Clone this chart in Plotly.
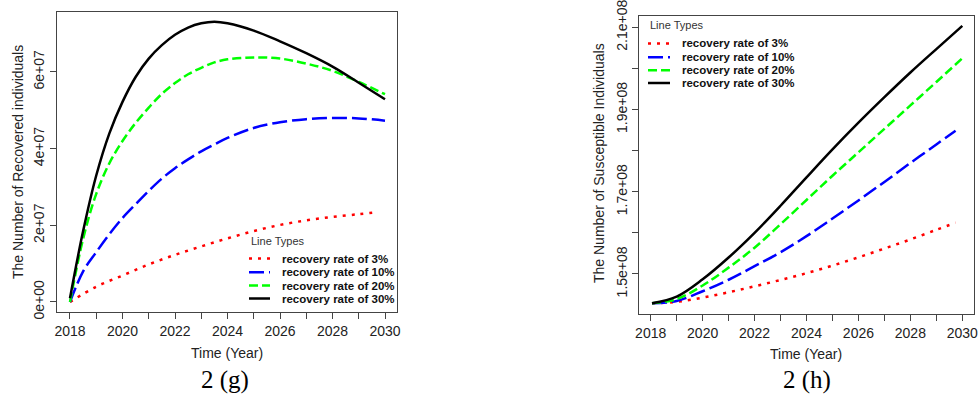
import plotly.graph_objects as go

# ---------------- data: panel 2(g) recovered individuals ----------------
g_years_fine = [2018, 2018.5, 2019, 2019.5, 2020, 2020.5, 2021, 2021.5, 2022, 2022.5, 2023, 2023.5,
                2024, 2025, 2026, 2027, 2028, 2029, 2030]
g_rec_30 = [0.1e7, 1.85e7, 3.3e7, 4.4e7, 5.22e7, 5.87e7, 6.35e7, 6.7e7, 6.97e7, 7.16e7, 7.27e7, 7.31e7,
            7.27e7, 7.08e7, 6.8e7, 6.49e7, 6.14e7, 5.72e7, 5.29e7]
g_rec_20 = [0.0, 1.65e7, 2.82e7, 3.62e7, 4.2e7, 4.67e7, 5.07e7, 5.43e7, 5.71e7, 5.94e7, 6.11e7, 6.25e7,
            6.33e7, 6.38e7, 6.35e7, 6.22e7, 6.03e7, 5.74e7, 5.42e7]
g_rec_10 = [0.0, 0.8e7, 1.3e7, 1.77e7, 2.19e7, 2.55e7, 2.9e7, 3.22e7, 3.49e7, 3.72e7, 3.93e7, 4.11e7,
            4.28e7, 4.54e7, 4.69e7, 4.77e7, 4.8e7, 4.79e7, 4.73e7]
g_years_red = [2018, 2019, 2020, 2021, 2022, 2023, 2024, 2025, 2026, 2027, 2028, 2029, 2029.75]
g_rec_03 = [0.0, 0.4e7, 0.69e7, 0.98e7, 1.23e7, 1.45e7, 1.66e7, 1.85e7, 2.01e7, 2.13e7, 2.22e7, 2.29e7, 2.345e7]

# ---------------- data: panel 2(h) susceptible individuals ----------------
h_years_main = [2018.05, 2019, 2020, 2021, 2022, 2023, 2024, 2025, 2026, 2027, 2028, 2029, 2030]
h_sus_30 = [1.4287e8, 1.4448e8, 1.487e8, 1.540e8, 1.600e8, 1.666e8, 1.735e8, 1.803e8, 1.868e8, 1.930e8, 1.990e8, 2.047e8, 2.1033e8]
h_sus_20 = [1.4287e8, 1.439e8, 1.472e8, 1.5155e8, 1.564e8, 1.621e8, 1.680e8, 1.739e8, 1.796e8, 1.853e8, 1.910e8, 1.967e8, 2.0247e8]
h_years_short = [2018.05, 2019, 2020, 2021, 2022, 2023, 2024, 2025, 2026, 2027, 2028, 2029, 2029.74]
h_sus_10 = [1.4287e8, 1.4345e8, 1.458e8, 1.486e8, 1.519e8, 1.553e8, 1.592e8, 1.635e8, 1.679e8, 1.724e8, 1.770e8, 1.815e8, 1.8486e8]
h_sus_03 = [1.4287e8, 1.4322e8, 1.4425e8, 1.4555e8, 1.470e8, 1.4855e8, 1.502e8, 1.5205e8, 1.5405e8, 1.562e8, 1.584e8, 1.6075e8, 1.6245e8]

# ---------------- ticks & labels ----------------
x_tick_vals = list(range(2018, 2031))
x_tick_text = [str(y) if y % 2 == 0 else "" for y in x_tick_vals]
g_y_tick_vals = [0, 2e7, 4e7, 6e7]
g_y_tick_text = ["0e+00", "2e+07", "4e+07", "6e+07"]
h_y_tick_vals = [1.5e8, 1.6e8, 1.7e8, 1.8e8, 1.9e8, 2.0e8, 2.1e8]
h_y_tick_text = ["1.5e+08", "", "1.7e+08", "", "1.9e+08", "", "2.1e+08"]

series_names = ["recovery rate of 3%", "recovery rate of 10%", "recovery rate of 20%", "recovery rate of 30%"]
series_colors = ["#FF0000", "#0000FF", "#00FF00", "#000000"]
series_dash = ["3px,6px", "15px,5px", "9px,4px", "solid"]

W, H = 979, 394
def px(x):
    return x / W
def py(y):
    return 1 - y / H

FONT = "Liberation Sans, Arial, sans-serif"
TXT = "#222222"
LW = 2.5

fig = go.Figure()

g_sets = [(g_years_red, g_rec_03), (g_years_fine, g_rec_10), (g_years_fine, g_rec_20), (g_years_fine, g_rec_30)]
h_sets = [(h_years_short, h_sus_03), (h_years_short, h_sus_10), (h_years_main, h_sus_20), (h_years_main, h_sus_30)]

for i, (xs, ys) in enumerate(g_sets):
    fig.add_trace(go.Scatter(x=xs, y=ys, mode="lines", name=series_names[i], showlegend=False,
                             line=dict(color=series_colors[i], width=LW, dash=series_dash[i], shape="spline", smoothing=1.0),
                             xaxis="x", yaxis="y"))
for i, (xs, ys) in enumerate(h_sets):
    fig.add_trace(go.Scatter(x=xs, y=ys, mode="lines", name=series_names[i], showlegend=False,
                             line=dict(color=series_colors[i], width=LW, dash=series_dash[i], shape="spline", smoothing=1.0),
                             xaxis="x2", yaxis="y2"))

axis_common = dict(showline=True, mirror=True, linecolor="#444444", linewidth=1, ticks="outside",
                   ticklen=6, tickcolor="#444444", showgrid=False, zeroline=False, automargin=False,
                   ticklabeloverflow="allow",
                   tickfont=dict(family=FONT, size=14, color=TXT))

fig.update_layout(
    width=W, height=H, autosize=False,
    margin=dict(l=0, r=0, t=0, b=0, autoexpand=False),
    paper_bgcolor="white", plot_bgcolor="white",
    xaxis=dict(domain=[px(57), px(397)], range=[2017.505, 2030.457], anchor="y",
               tickvals=x_tick_vals, ticktext=x_tick_text, **axis_common),
    yaxis=dict(domain=[1 - 312 / H, 1 - 12 / H], range=[-2.61e6, 7.565e7], anchor="x",
               tickvals=g_y_tick_vals, ticktext=g_y_tick_text, tickangle=-90, **axis_common),
    xaxis2=dict(domain=[px(639.3), px(974)], range=[2017.561, 2030.45], anchor="y2",
                tickvals=x_tick_vals, ticktext=x_tick_text, **axis_common),
    yaxis2=dict(domain=[1 - 314 / H, 1 - 15.7 / H], range=[1.4027e8, 2.1282e8], anchor="x2",
                tickvals=h_y_tick_vals, ticktext=h_y_tick_text, tickangle=-90, **axis_common),
)

annotations = []
# axis titles
annotations.append(dict(text="Time (Year)", x=px(227), y=py(353), xref="paper", yref="paper", showarrow=False,
                        font=dict(family=FONT, size=14, color=TXT), xanchor="center", yanchor="middle"))
annotations.append(dict(text="Time (Year)", x=px(806), y=py(354), xref="paper", yref="paper", showarrow=False,
                        font=dict(family=FONT, size=14, color=TXT), xanchor="center", yanchor="middle"))
annotations.append(dict(text="The Number of Recovered individuals", x=px(18), y=py(162), xref="paper", yref="paper",
                        showarrow=False, textangle=-90, font=dict(family=FONT, size=14, color=TXT),
                        xanchor="center", yanchor="middle"))
annotations.append(dict(text="The Number of Susceptible Individuals", x=px(599), y=py(163), xref="paper", yref="paper",
                        showarrow=False, textangle=-90, font=dict(family=FONT, size=14, color=TXT),
                        xanchor="center", yanchor="middle"))
# captions
annotations.append(dict(text="2 (g)", x=px(225), y=py(380), xref="paper", yref="paper", showarrow=False,
                        font=dict(family="Liberation Serif, Times New Roman, serif", size=25, color="#000000"),
                        xanchor="center", yanchor="middle"))
annotations.append(dict(text="2 (h)", x=px(807), y=py(380), xref="paper", yref="paper", showarrow=False,
                        font=dict(family="Liberation Serif, Times New Roman, serif", size=25, color="#000000"),
                        xanchor="center", yanchor="middle"))

shapes = []
# manual legends (title + samples + labels)
legend_specs = [
    dict(title_xy=(249, 241), sample_x=(249, 270), text_x=280, rows=[258.5, 272.3, 285.5, 298.5]),
    dict(title_xy=(648, 25), sample_x=(648, 670), text_x=680, rows=[43.5, 57.3, 70.3, 83]),
]
for spec in legend_specs:
    tx, ty = spec["title_xy"]
    annotations.append(dict(text="Line Types", x=px(tx), y=py(ty), xref="paper", yref="paper", showarrow=False,
                            font=dict(family=FONT, size=11, color="#333333"), xanchor="left", yanchor="middle"))
    x0, x1 = spec["sample_x"]
    for i, ry in enumerate(spec["rows"]):
        shapes.append(dict(type="line", xref="paper", yref="paper", x0=px(x0), x1=px(x1), y0=py(ry), y1=py(ry),
                           line=dict(color=series_colors[i], width=LW, dash=series_dash[i])))
        annotations.append(dict(text="<b>" + series_names[i] + "</b>", x=px(spec["text_x"]), y=py(ry),
                                xref="paper", yref="paper", showarrow=False,
                                font=dict(family=FONT, size=11.5, color="#111111"),
                                xanchor="left", yanchor="middle"))

fig.update_layout(annotations=annotations, shapes=shapes)

fig.write_html("out.html", config={"displayModeBar": False},
               post_script="document.body.style.margin='0px';document.body.style.padding='0px';")
